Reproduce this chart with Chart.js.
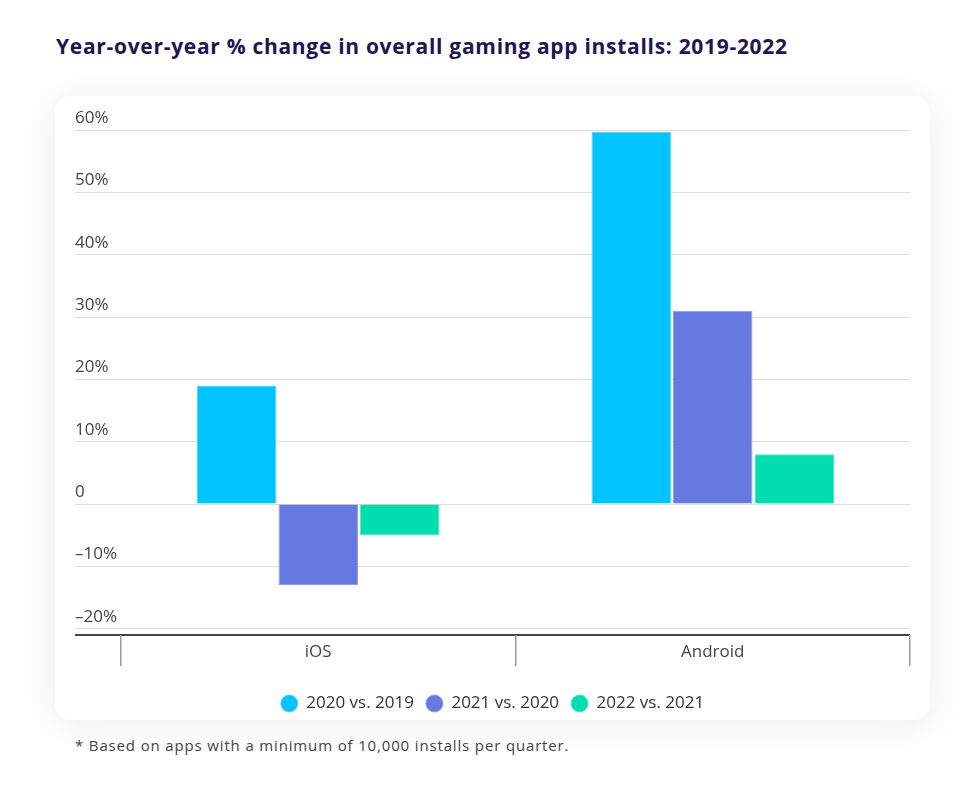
<!DOCTYPE html>
<html>
<head>
<meta charset="utf-8">
<script src="https://cdn.jsdelivr.net/npm/chart.js@4"></script>
<style>
  html, body { margin: 0; padding: 0; background: #fff; }
  body { width: 979px; height: 809px; position: relative; font-family: "Open Sans", "Noto Sans", sans-serif; }
  .title { position: absolute; left: 56px; top: 32px; font-size: 21px; font-weight: 700; color: #1f1650; letter-spacing: 0.7px; }
  .card { position: absolute; left: 55px; top: 96px; width: 875px; height: 624px; background: #fff; border-radius: 16px;
          box-shadow: 0 4px 40px rgba(30, 30, 60, 0.08); }
  .plot { position: relative; width: 875px; height: 626px; }
  .note { position: absolute; left: 75px; top: 735px; font-size: 15px; color: #444; letter-spacing: 0.85px; }
</style>
</head>
<body>
<div class="title">Year-over-year % change in overall gaming app installs: 2019-2022</div>
<div class="card"><div class="plot"><canvas id="yoyChart"></canvas></div></div>
<div class="note">* Based on apps with a minimum of 10,000 installs per quarter.</div>
<script>
const platforms = ['iOS', 'Android'];
const change2020vs2019 = [19, 59.7];
const change2021vs2020 = [-13, 31];
const change2022vs2021 = [-5, 8];
const seriesLabels = ['2020 vs. 2019', '2021 vs. 2020', '2022 vs. 2021'];
const yMin = -21, yMax = 60;
const yTickValues = [-21, -20, -10, 0, 10, 20, 30, 40, 50, 60];

document.addEventListener('DOMContentLoaded', function() {
    const colors = ['#00C3FF', '#6679E0', '#00DDB1'];
    const borders = ['#4fd4ff', '#8f9cec', '#4ee6c6'];
    const values = [change2020vs2019, change2021vs2020, change2022vs2021];

    const datasets = values.map((v, i) => ({
        label: seriesLabels[i],
        data: v,
        backgroundColor: colors[i],
        borderColor: borders[i],
        borderWidth: 1,
        barPercentage: 0.975,
        categoryPercentage: 0.62
    }));

    const font = { family: '"Open Sans", "Noto Sans", sans-serif', size: 17 };

    new Chart(document.getElementById('yoyChart'), {
        type: 'bar',
        data: { labels: platforms, datasets: datasets },
        options: {
            responsive: true,
            maintainAspectRatio: false,
            animation: false,
            layout: { padding: { left: 20, right: 20, top: 34, bottom: 0 } },
            plugins: {
                legend: {
                    position: 'bottom',
                    labels: {
                        usePointStyle: true,
                        pointStyle: 'circle',
                        boxHeight: 12,
                        padding: 12,
                        color: '#333',
                        font: font
                    }
                },
                tooltip: { enabled: false }
            },
            scales: {
                y: {
                    min: yMin,
                    max: yMax,
                    afterBuildTicks: (scale) => { scale.ticks = yTickValues.map(v => ({ value: v })); },
                    afterFit: (scale) => { scale.width = 46; },
                    border: { display: false },
                    grid: {
                        color: (ctx) => ctx.tick && ctx.tick.value === yMin ? '#444' : '#dddddd',
                        lineWidth: (ctx) => ctx.tick && ctx.tick.value === yMin ? 2 : 1,
                        tickLength: 46,
                        drawTicks: true
                    },
                    ticks: {
                        crossAlign: 'far',
                        labelOffset: -12,
                        color: '#444',
                        font: font,
                        callback: (val) => val === yMin ? '' : val === 0 ? '0' : (val < 0 ? '\u2013' + Math.abs(val) : val) + '%'
                    }
                },
                x: {
                    afterFit: (scale) => { scale.height = 48; },
                    border: { display: false },
                    grid: {
                        offset: true,
                        drawOnChartArea: false,
                        drawTicks: true,
                        tickLength: 31,
                        color: '#999',
                        lineWidth: 1.5
                    },
                    ticks: {
                        padding: -24,
                        color: '#444',
                        font: font
                    }
                }
            }
        }
    });
});
</script>
</body>
</html>
